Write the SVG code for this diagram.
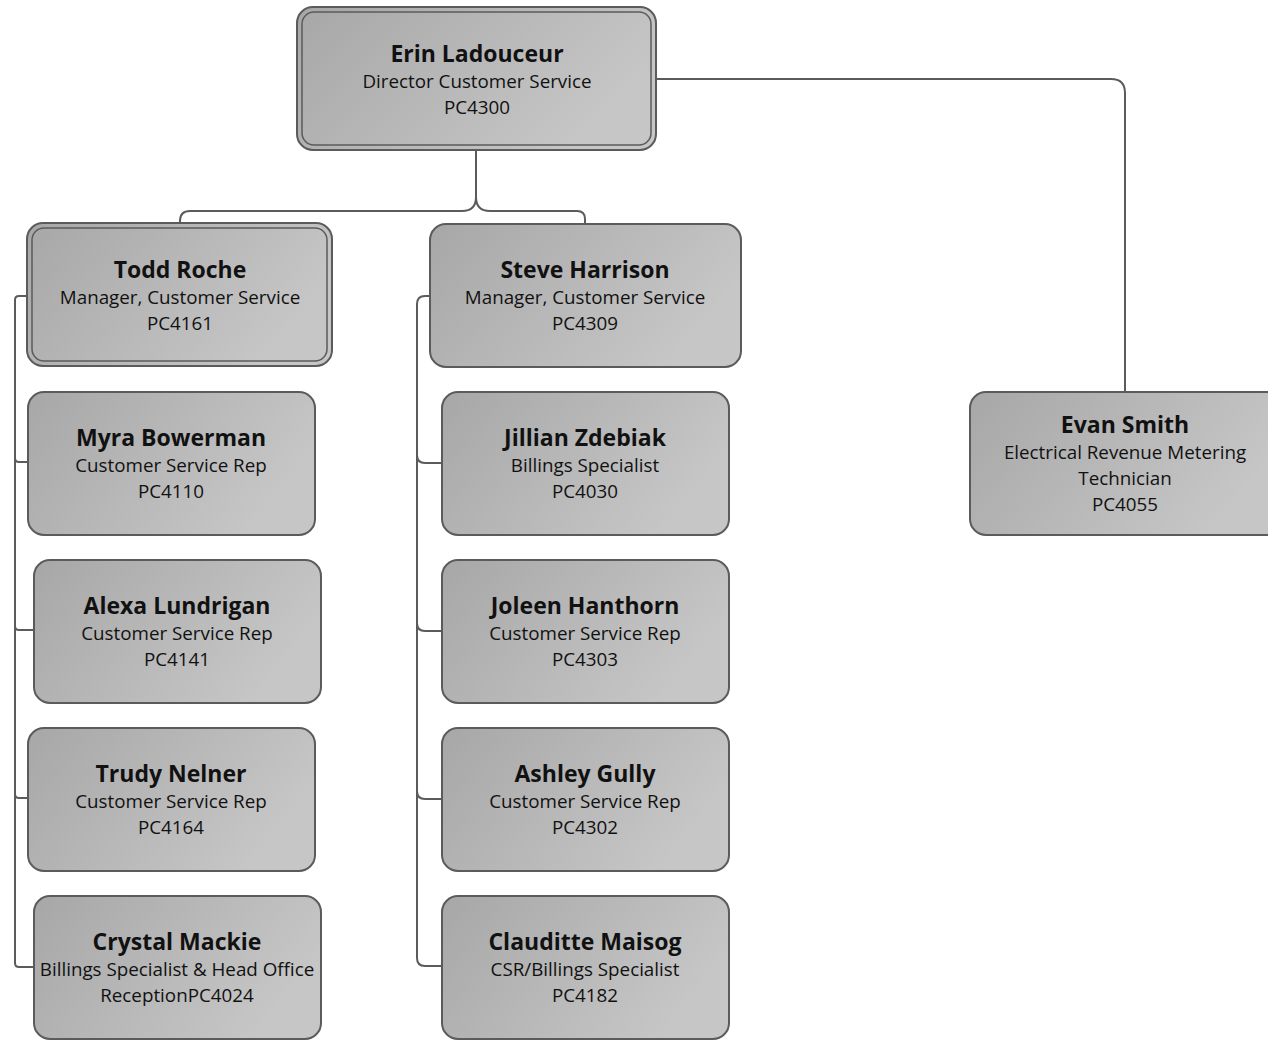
<svg xmlns="http://www.w3.org/2000/svg" width="1268" height="1040" viewBox="0 0 1268 1040">
<defs>
<linearGradient id="g" x1="0" y1="0" x2="1" y2="0.4">
<stop offset="0" stop-color="#a7a7a7"/>
<stop offset="1" stop-color="#c6c6c6"/>
</linearGradient>
<style>
.box{fill:url(#g);stroke:#5b5b5b;stroke-width:2}
.inner{fill:none;stroke:#5b5b5b;stroke-width:1.5}
.c{fill:none;stroke:#5b5b5b;stroke-width:2}
text{font-family:"Open Sans","Liberation Sans",sans-serif;text-anchor:middle;fill:#111}
.n{font-size:23px;font-weight:bold}
.t{font-size:18.8px}
</style>
</defs>
<rect width="1268" height="1040" fill="#fff"/>
<g id="connectors">
<path class="c" d="M476,151 V197 Q476,211 462,211 H190 Q180,211 180,221 V223"/>
<path class="c" d="M476,197 Q476,211 490,211 H577 Q585,211 585,219 V223"/>
<path class="c" d="M657,79 H1111 Q1125,79 1125,93 V391"/>
<path class="c" d="M27,296 H19 Q15,296 15,300 V963 Q15,967 19,967 H33"/>
<path class="c" d="M15,458 Q15,462 19,462 H27"/>
<path class="c" d="M15,626 Q15,630 19,630 H33"/>
<path class="c" d="M15,794 Q15,798 19,798 H27"/>
<path class="c" d="M429,296 H425 Q417,296 417,304 V958 Q417,966 425,966 H441"/>
<path class="c" d="M417,455 Q417,463 425,463 H441"/>
<path class="c" d="M417,623 Q417,631 425,631 H441"/>
<path class="c" d="M417,791 Q417,799 425,799 H441"/>
</g>
<g id="erin">
<rect class="box" x="297" y="7" width="359" height="143" rx="16"/>
<rect class="inner" x="302" y="12" width="349" height="133" rx="12"/>
<text class="n" x="477" y="62">Erin Ladouceur</text>
<text class="t" x="477" y="88">Director Customer Service</text>
<text class="t" x="477" y="114">PC4300</text>
</g>
<g id="todd">
<rect class="box" x="27" y="223" width="305" height="143" rx="16"/>
<rect class="inner" x="32" y="228" width="295" height="133" rx="12"/>
<text class="n" x="180" y="278">Todd Roche</text>
<text class="t" x="180" y="304">Manager, Customer Service</text>
<text class="t" x="180" y="330">PC4161</text>
</g>
<g id="steve">
<rect class="box" x="430" y="224" width="311" height="143" rx="16"/>
<text class="n" x="585" y="278">Steve Harrison</text>
<text class="t" x="585" y="304">Manager, Customer Service</text>
<text class="t" x="585" y="330">PC4309</text>
</g>
<g id="evan">
<rect class="box" x="970" y="392" width="312" height="143" rx="16"/>
<text class="n" x="1125" y="433">Evan Smith</text>
<text class="t" x="1125" y="459">Electrical Revenue Metering</text>
<text class="t" x="1125" y="485">Technician</text>
<text class="t" x="1125" y="511">PC4055</text>
</g>
<g id="myra">
<rect class="box" x="28" y="392" width="287" height="143" rx="16"/>
<text class="n" x="171" y="446">Myra Bowerman</text>
<text class="t" x="171" y="472">Customer Service Rep</text>
<text class="t" x="171" y="498">PC4110</text>
</g>
<g id="alexa">
<rect class="box" x="34" y="560" width="287" height="143" rx="16"/>
<text class="n" x="177" y="614">Alexa Lundrigan</text>
<text class="t" x="177" y="640">Customer Service Rep</text>
<text class="t" x="177" y="666">PC4141</text>
</g>
<g id="trudy">
<rect class="box" x="28" y="728" width="287" height="143" rx="16"/>
<text class="n" x="171" y="782">Trudy Nelner</text>
<text class="t" x="171" y="808">Customer Service Rep</text>
<text class="t" x="171" y="834">PC4164</text>
</g>
<g id="crystal">
<rect class="box" x="34" y="896" width="287" height="143" rx="16"/>
<text class="n" x="177" y="950">Crystal Mackie</text>
<text class="t" x="177" y="976">Billings Specialist &amp; Head Office</text>
<text class="t" x="177" y="1002">ReceptionPC4024</text>
</g>
<g id="jillian">
<rect class="box" x="442" y="392" width="287" height="143" rx="16"/>
<text class="n" x="585" y="446">Jillian Zdebiak</text>
<text class="t" x="585" y="472">Billings Specialist</text>
<text class="t" x="585" y="498">PC4030</text>
</g>
<g id="joleen">
<rect class="box" x="442" y="560" width="287" height="143" rx="16"/>
<text class="n" x="585" y="614">Joleen Hanthorn</text>
<text class="t" x="585" y="640">Customer Service Rep</text>
<text class="t" x="585" y="666">PC4303</text>
</g>
<g id="ashley">
<rect class="box" x="442" y="728" width="287" height="143" rx="16"/>
<text class="n" x="585" y="782">Ashley Gully</text>
<text class="t" x="585" y="808">Customer Service Rep</text>
<text class="t" x="585" y="834">PC4302</text>
</g>
<g id="clauditte">
<rect class="box" x="442" y="896" width="287" height="143" rx="16"/>
<text class="n" x="585" y="950">Clauditte Maisog</text>
<text class="t" x="585" y="976">CSR/Billings Specialist</text>
<text class="t" x="585" y="1002">PC4182</text>
</g>
</svg>
